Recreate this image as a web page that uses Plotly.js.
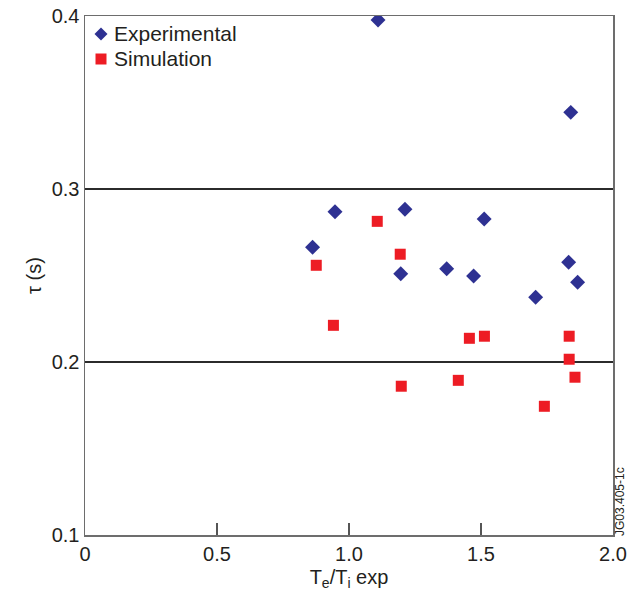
<!DOCTYPE html>
<html>
<head>
<meta charset="utf-8">
<script src="https://cdn.plot.ly/plotly-3.0.1.min.js"></script>
<style>html,body{margin:0;padding:0;background:#fff;}#chart{width:628px;height:601px;}</style>
</head>
<body>
<div id="chart"></div>
<script>
// Experimental data (diamonds)
var expX = [0.862, 0.947, 1.110, 1.196, 1.212, 1.370, 1.472, 1.512, 1.707, 1.832, 1.840, 1.866];
var expY = [0.2663, 0.2869, 0.3977, 0.2510, 0.2883, 0.2539, 0.2497, 0.2827, 0.2374, 0.2576, 0.3443, 0.2461];
// Simulation data (squares)
var simX = [0.876, 0.941, 1.107, 1.194, 1.198, 1.414, 1.456, 1.513, 1.740, 1.834, 1.834, 1.856];
var simY = [0.2559, 0.2212, 0.2813, 0.2623, 0.1860, 0.1894, 0.2137, 0.2149, 0.1744, 0.2149, 0.2016, 0.1912];
var seriesNames = ['Experimental', 'Simulation'];
var xTickVals = [0, 0.5, 1.0, 1.5, 2.0];
var xTickText = ['0', '0.5', '1.0', '1.5', '2.0'];
var yTickVals = [0.1, 0.2, 0.3, 0.4];
var yTickText = ['0.1', '0.2', '0.3', '0.4'];

var font = 'Liberation Sans, Arial, Helvetica, sans-serif';
var txtColor = '#231F20';
var expColor = '#2E3192', simColor = '#ED1C24';

var W = 628, H = 601, M = {l: 85, r: 15, t: 16, b: 66};
var pw = W - M.l - M.r, ph = H - M.t - M.b;
function px(x) { return (x - M.l) / pw; }
function py(y) { return (H - M.b - y) / ph; }

var traces = [
  {x: expX, y: expY, type: 'scatter', mode: 'markers', name: seriesNames[0], showlegend: false,
   marker: {symbol: 'diamond', size: 11.5, color: expColor, line: {width: 0}}},
  {x: simX, y: simY, type: 'scatter', mode: 'markers', name: seriesNames[1], showlegend: false,
   marker: {symbol: 'square', size: 11, color: simColor, line: {width: 0}}}
];

// Legend drawn as symbols + text (paper coordinates)
var lx = 101, ly1 = 34, ly2 = 59, d = 6.5, s = 5.5;
var shapes = [
  {type: 'path', xref: 'paper', yref: 'paper',
   path: 'M' + px(lx - d) + ',' + py(ly1) + ' L' + px(lx) + ',' + py(ly1 - d) + ' L' + px(lx + d) + ',' + py(ly1) + ' L' + px(lx) + ',' + py(ly1 + d) + ' Z',
   fillcolor: expColor, line: {width: 0}},
  {type: 'rect', xref: 'paper', yref: 'paper', x0: px(lx - s), x1: px(lx + s), y0: py(ly2 + s), y1: py(ly2 - s),
   fillcolor: simColor, line: {width: 0}}
];

var layout = {
  width: W, height: H,
  margin: M,
  paper_bgcolor: '#fff', plot_bgcolor: '#fff',
  font: {family: font, size: 20, color: txtColor},
  showlegend: false,
  shapes: shapes,
  xaxis: {range: [0, 2.0], tickvals: xTickVals, ticktext: xTickText,
          showgrid: false, zeroline: false, showline: true, linecolor: '#6d6d6d', linewidth: 1.5,
          mirror: true, ticks: 'inside', ticklen: 12, tickcolor: '#555', tickwidth: 1.2,
          tickfont: {family: font, size: 20, color: txtColor},
          title: {text: 'T<sub>e</sub>/T<sub>i</sub> exp', font: {family: font, size: 20, color: txtColor}, standoff: 6}},
  yaxis: {range: [0.1, 0.4], tickvals: yTickVals, ticktext: yTickText,
          showgrid: true, gridcolor: '#2b2b2b', gridwidth: 1.3, zeroline: false,
          showline: true, linecolor: '#6d6d6d', linewidth: 1.5, mirror: true, ticks: '',
          tickfont: {family: font, size: 20, color: txtColor},
          title: {text: 'τ (s)', font: {family: font, size: 20, color: txtColor}, standoff: 4}},
  annotations: [
    {text: seriesNames[0], xref: 'paper', yref: 'paper', x: px(112), y: py(ly1), xanchor: 'left', yanchor: 'middle',
     showarrow: false, font: {family: font, size: 21, color: txtColor}},
    {text: seriesNames[1], xref: 'paper', yref: 'paper', x: px(112), y: py(ly2), xanchor: 'left', yanchor: 'middle',
     showarrow: false, font: {family: font, size: 21, color: txtColor}},
    {text: 'JG03.405-1c', xref: 'paper', yref: 'paper', x: px(620), y: py(502), xanchor: 'center', yanchor: 'middle',
     borderpad: 0, textangle: -90, showarrow: false, font: {family: font, size: 12, color: txtColor}}
  ]
};
Plotly.newPlot('chart', traces, layout, {displayModeBar: false, staticPlot: true});
</script>
</body>
</html>
